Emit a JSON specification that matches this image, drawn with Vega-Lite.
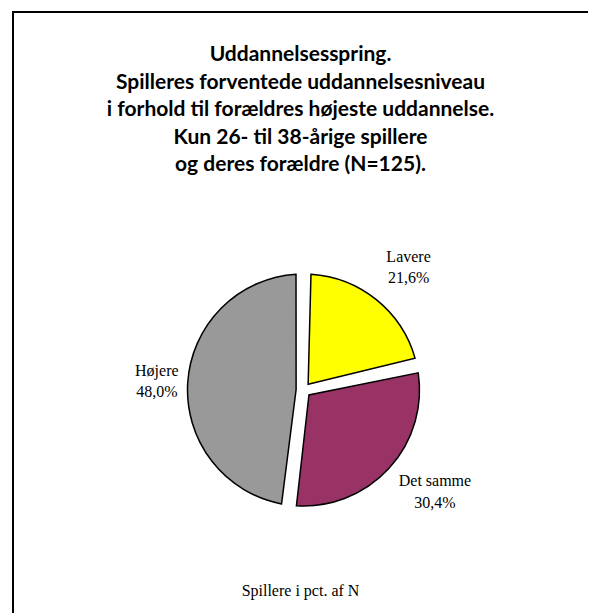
{
  "$schema": "https://vega.github.io/schema/vega-lite/v6.json",
  "width": 589,
  "height": 614,
  "autosize": {"type": "fit", "contains": "padding"},
  "padding": {"left": 13, "top": 12, "right": 1, "bottom": 1},
  "background": "white",
  "config": {
    "style": {
      "view": {"stroke": "#000000", "strokeWidth": 2, "strokeDash": [575, 1176, 601]}
    }
  },
  "title": {
    "text": ["Uddannelsesspring.", "Spilleres forventede uddannelsesniveau", "i forhold til forældres højeste uddannelse.", "Kun 26- til 38-årige spillere", "og deres forældre (N=125)."],
    "subtitle": "Spillere i pct. af N",
    "anchor": "middle",
    "frame": "group",
    "orient": "top",
    "offset": -587,
    "font": "Lato",
    "fontSize": 21,
    "fontWeight": "bold",
    "color": "#000000",
    "lineHeight": 27.5,
    "subtitleFont": "Liberation Serif",
    "subtitleFontSize": 16,
    "subtitleFontWeight": "normal",
    "subtitleColor": "#000000",
    "subtitlePadding": 408
  },
  "data": {"values": [
    {"kategori": "Lavere", "pct": 21.6, "rang": 1, "etiket": "Lavere\n21,6%"},
    {"kategori": "Det samme", "pct": 30.4, "rang": 2, "etiket": "Det samme\n30,4%"},
    {"kategori": "Højere", "pct": 48.0, "rang": 3, "etiket": "Højere\n48,0%"}
  ]},
  "encoding": {
    "theta": {"field": "pct", "type": "quantitative", "stack": true},
    "order": {"field": "rang", "type": "quantitative"}
  },
  "layer": [
    {
      "mark": {"type": "arc", "radius": 116, "innerRadius": 7.4, "padAngle": 0.129, "stroke": "#000000", "strokeWidth": 1.5, "xOffset": 3, "yOffset": 77.5},
      "encoding": {
        "color": {"field": "kategori", "type": "nominal", "scale": {"domain": ["Lavere", "Det samme", "Højere"], "range": ["#FFFF00", "#993366", "#999999"]}, "legend": null}
      }
    },
    {
      "mark": {"type": "text", "radius": 161, "xOffset": 3, "yOffset": 77.5, "dx": 4, "dy": -8, "font": "Liberation Serif", "fontSize": 16, "lineBreak": "\n", "lineHeight": 21, "align": "center", "baseline": "middle", "color": "#000000"},
      "encoding": {"text": {"condition": {"test": "datum.kategori === 'Lavere'", "field": "etiket", "type": "nominal"}, "value": ""}}
    },
    {
      "mark": {"type": "text", "radius": 166, "xOffset": 3, "yOffset": 77.5, "dx": 9, "dy": -21, "font": "Liberation Serif", "fontSize": 16, "lineBreak": "\n", "lineHeight": 22, "align": "center", "baseline": "middle", "color": "#000000"},
      "encoding": {"text": {"condition": {"test": "datum.kategori === 'Det samme'", "field": "etiket", "type": "nominal"}, "value": ""}}
    },
    {
      "mark": {"type": "text", "radius": 147, "xOffset": 3, "yOffset": 77.5, "dy": -10, "font": "Liberation Serif", "fontSize": 16, "lineBreak": "\n", "lineHeight": 21, "align": "center", "baseline": "middle", "color": "#000000"},
      "encoding": {"text": {"condition": {"test": "datum.kategori === 'Højere'", "field": "etiket", "type": "nominal"}, "value": ""}}
    }
  ]
}
